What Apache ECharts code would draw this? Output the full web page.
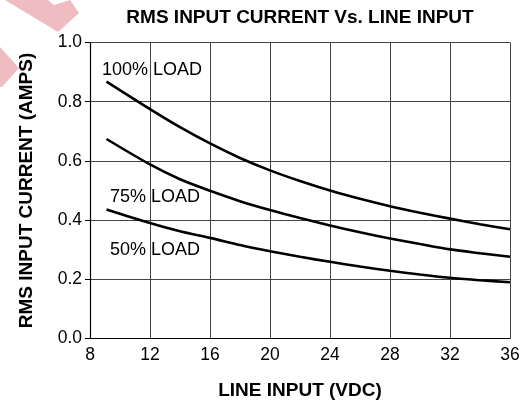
<!DOCTYPE html>
<html>
<head>
<meta charset="utf-8">
<script src="https://cdn.jsdelivr.net/npm/echarts@6/dist/echarts.min.js"></script>
<style>
html,body{margin:0;padding:0;background:#fff;}
#chart{width:528px;height:407px;}
</style>
</head>
<body>
<div id="chart"></div>
<script>
// Data
const lineInputVdc = [9.1, 12, 14, 16, 18, 20, 22, 24, 26, 28, 30, 32, 34, 36];
const load100 = [0.868, 0.775, 0.714, 0.659, 0.610, 0.568, 0.532, 0.500, 0.472, 0.447, 0.425, 0.405, 0.386, 0.369];
const load75  = [0.674, 0.588, 0.538, 0.499, 0.464, 0.434, 0.407, 0.382, 0.359, 0.338, 0.319, 0.301, 0.288, 0.276];
const load50  = [0.436, 0.390, 0.362, 0.340, 0.316, 0.295, 0.276, 0.259, 0.243, 0.229, 0.216, 0.205, 0.197, 0.190];
const seriesNames = ['100% LOAD', '75% LOAD', '50% LOAD'];
const xTicks = [8, 12, 16, 20, 24, 28, 32, 36];
const yTicks = ['0.0', '0.2', '0.4', '0.6', '0.8', '1.0'];

const FONT = '"Liberation Sans", Arial, Helvetica, sans-serif';
const chart = echarts.init(document.getElementById('chart'), null, {renderer: 'canvas'});

function pairs(ys) { return lineInputVdc.map((x, i) => [x, ys[i]]); }

const lineStyle = {color: '#000', width: 2.6};
const mkSeries = (name, ys) => ({
  name, type: 'line', data: pairs(ys), smooth: 0.3, showSymbol: false,
  lineStyle, itemStyle: {color: '#000'}, silent: true, z: 5
});

chart.setOption({
  animation: false,
  backgroundColor: '#fff',
  grid: {left: 90, right: 18, top: 42.5, bottom: 68.5, containLabel: false},
  xAxis: {
    type: 'value', min: xTicks[0], max: xTicks[xTicks.length - 1], interval: 4,
    name: 'LINE INPUT (VDC)', nameLocation: 'middle', nameGap: 43,
    nameTextStyle: {fontFamily: FONT, fontWeight: 'bold', fontSize: 19, color: '#000'},
    axisLine: {show: true, lineStyle: {color: '#000', width: 1.2}},
    axisTick: {show: false},
    axisLabel: {fontFamily: FONT, fontSize: 17.5, color: '#000', margin: 8},
    splitLine: {show: true, lineStyle: {color: '#444', width: 1}}
  },
  yAxis: {
    type: 'value', min: 0, max: 1, interval: 0.2,
    name: 'RMS INPUT CURRENT (AMPS)', nameLocation: 'middle', nameGap: 54,
    nameTextStyle: {fontFamily: FONT, fontWeight: 'bold', fontSize: 19, color: '#000'},
    axisLine: {show: true, lineStyle: {color: '#000', width: 1.2}},
    axisTick: {show: true, inside: false, length: 5, lineStyle: {color: '#000'}},
    axisLabel: {fontFamily: FONT, fontSize: 17.5, color: '#000', margin: 8,
      formatter: v => yTicks[Math.round(v / 0.2)]},
    splitLine: {show: true, lineStyle: {color: '#444', width: 1}}
  },
  series: [mkSeries(seriesNames[0], load100), mkSeries(seriesNames[1], load75), mkSeries(seriesNames[2], load50)]
});

// Annotation positions (data coords of right end / vertical middle of each label)
const labelAnchors = [[15.47, 0.907], [15.33, 0.479], [15.33, 0.299]];
const g = [
  {type: 'polygon', z: 0, silent: true,
   shape: {points: [[5,0],[48,0],[54,5],[70,0],[79,13],[58,32]]},
   style: {fill: '#efbcc2'}},
  {type: 'polygon', z: 0, silent: true,
   shape: {points: [[0,47],[19,68],[2,87],[0,87]]},
   style: {fill: '#efbcc2'}},
  {type: 'text', x: 300, y: 18, z: 10, silent: true,
   style: {text: 'RMS INPUT CURRENT Vs. LINE INPUT', textAlign: 'center', textVerticalAlign: 'middle',
     font: 'bold 19px ' + FONT, fill: '#000'}}
];
labelAnchors.forEach((a, i) => {
  const p = chart.convertToPixel({gridIndex: 0}, a);
  g.push({type: 'text', x: p[0], y: p[1], z: 10, silent: true,
    style: {text: seriesNames[i], textAlign: 'right', textVerticalAlign: 'middle',
      font: '18px ' + FONT, fill: '#000'}});
});
chart.setOption({graphic: g});
</script>
</body>
</html>
